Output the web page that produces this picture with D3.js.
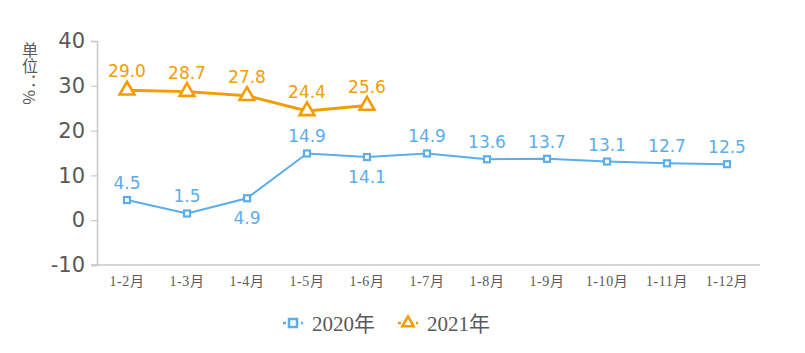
<!DOCTYPE html>
<meta charset="utf-8">
<script src="https://d3js.org/d3.v7.min.js"></script>
<style>
  body { margin: 0; background: #fff; }
</style>
<div id="chart"></div>
<script>
// data
var months = ["1-2月", "1-3月", "1-4月", "1-5月", "1-6月", "1-7月", "1-8月", "1-9月", "1-10月", "1-11月", "1-12月"];
var values2020 = [4.5, 1.5, 4.9, 14.9, 14.1, 14.9, 13.6, 13.7, 13.1, 12.7, 12.5];
var values2021 = [29.0, 28.7, 27.8, 24.4, 25.6];
var below2020 = [false, false, true, false, true, false, false, false, false, false, false];
var yTicks = [-10, 0, 10, 20, 30, 40];

var W = 805, H = 353;
var margin = {top: 41, right: 45, bottom: 88, left: 97};
var blue = "#5badec", orange = "#f59c00";

var svg = d3.select("#chart").append("svg")
    .attr("width", W).attr("height", H);

var x = d3.scaleBand()
    .domain(months)
    .range([margin.left, 757]);

var y = d3.scaleLinear()
    .domain([-10, 40])
    .range([H - margin.bottom, margin.top]);

// y axis
var yAxis = svg.append("g")
    .attr("transform", `translate(${margin.left},0)`)
    .call(d3.axisLeft(y).tickValues(yTicks).tickSize(6).tickPadding(6)
      .tickFormat(d => String(d)));
yAxis.select(".domain").attr("stroke", "#c8c8c8").attr("stroke-width", 1.5);
yAxis.selectAll(".tick line").attr("stroke", "#c8c8c8").attr("stroke-width", 1.2);
yAxis.selectAll("text")
    .attr("fill", "#595959")
    .attr("font-family", "DejaVu Sans, Verdana, sans-serif")
    .attr("font-size", 21);

// x axis
var xAxis = svg.append("g")
    .attr("transform", `translate(0,${y(-10)})`)
    .call(d3.axisBottom(x).tickSize(0).tickPadding(11));
xAxis.select(".domain").attr("stroke", "#c8c8c8").attr("stroke-width", 1.5)
    .attr("d", `M${margin.left - 6},0H${x.range()[1] + 3}`);
xAxis.selectAll("text")
    .attr("fill", "#595959")
    .attr("font-family", "Liberation Serif, Noto Sans CJK SC, serif")
    .attr("font-size", 14)
    .attr("letter-spacing", 0.6);

// unit label
svg.append("text")
    .attr("x", 30).attr("y", 42)
    .attr("writing-mode", "vertical-rl")
    .attr("fill", "#595959")
    .attr("font-family", "Noto Sans CJK SC, sans-serif")
    .attr("font-size", 16)
    .text("单位：%");

var cx = (d, i) => x(months[i]) + x.bandwidth() / 2;
var line = d3.line().x(cx).y(d => y(d));

// 2020 series
svg.append("path")
    .datum(values2020)
    .attr("fill", "none")
    .attr("stroke", blue)
    .attr("stroke-width", 2)
    .attr("d", line);

svg.append("g").selectAll("rect")
    .data(values2020)
    .join("rect")
    .attr("x", (d, i) => cx(d, i) - 3)
    .attr("y", d => y(d) - 3)
    .attr("width", 6).attr("height", 6)
    .attr("fill", "#fff")
    .attr("stroke", blue)
    .attr("stroke-width", 2.2);

svg.append("g").selectAll("text")
    .data(values2020)
    .join("text")
    .attr("x", (d, i) => cx(d, i))
    .attr("y", (d, i) => below2020[i] ? y(d) + 26 : y(d) - 11)
    .attr("text-anchor", "middle")
    .attr("fill", blue)
    .attr("font-family", "DejaVu Sans, Verdana, sans-serif")
    .attr("font-size", 17)
    .text(d => d.toFixed(1));

// 2021 series
svg.append("path")
    .datum(values2021)
    .attr("fill", "none")
    .attr("stroke", orange)
    .attr("stroke-width", 3)
    .attr("d", line);

var tri = d3.symbol().type(d3.symbolTriangle).size(95);
svg.append("g").selectAll("path")
    .data(values2021)
    .join("path")
    .attr("transform", (d, i) => `translate(${cx(d, i)},${y(d)})`)
    .attr("d", tri)
    .attr("fill", "#fff")
    .attr("stroke", orange)
    .attr("stroke-width", 2.6);

svg.append("g").selectAll("text")
    .data(values2021)
    .join("text")
    .attr("x", (d, i) => cx(d, i))
    .attr("y", d => y(d) - 13)
    .attr("text-anchor", "middle")
    .attr("fill", orange)
    .attr("font-family", "DejaVu Sans, Verdana, sans-serif")
    .attr("font-size", 17)
    .text(d => d.toFixed(1));

// legend
var legend = svg.append("g").attr("transform", "translate(283,323)");
var items = [
  {name: "2020年", color: blue, shape: "square", dx: 0},
  {name: "2021年", color: orange, shape: "triangle", dx: 115}
];
items.forEach(function(it) {
  var g = legend.append("g").attr("transform", `translate(${it.dx},0)`);
  g.append("line")
      .attr("x1", 0).attr("x2", 20).attr("y1", 0).attr("y2", 0)
      .attr("stroke", it.color).attr("stroke-width", 2.5)
      .attr("stroke-dasharray", "3,3");
  if (it.shape === "square") {
    g.append("rect").attr("x", 6).attr("y", -4).attr("width", 8).attr("height", 8)
        .attr("fill", "#fff").attr("stroke", it.color).attr("stroke-width", 2.5);
  } else {
    g.append("path").attr("transform", "translate(10,0)")
        .attr("d", d3.symbol().type(d3.symbolTriangle).size(55))
        .attr("fill", "#fff").attr("stroke", it.color).attr("stroke-width", 2.5);
  }
  g.append("text")
      .attr("x", 29).attr("y", 8)
      .attr("fill", "#595959")
      .attr("font-family", "Liberation Serif, Noto Sans CJK SC, serif")
      .attr("font-size", 21)
      .text(it.name);
});
</script>
